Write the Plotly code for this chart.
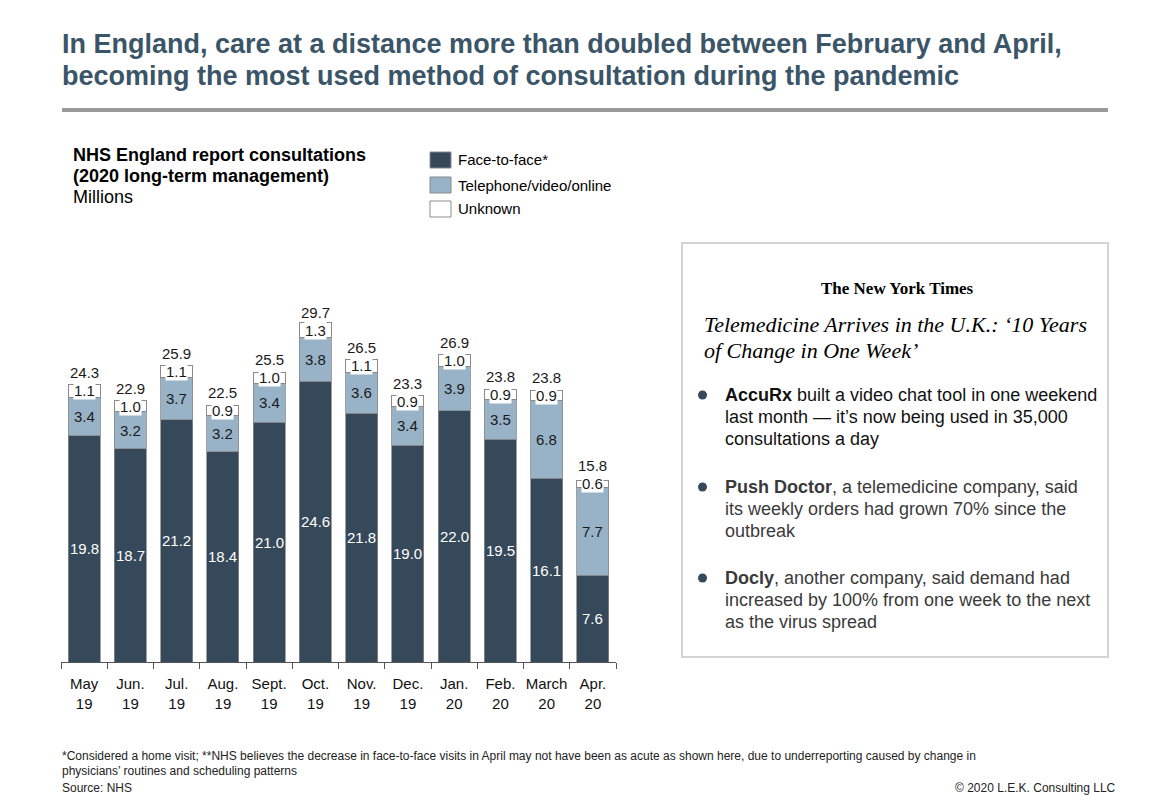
import plotly.graph_objects as go

months = ["May<br>19", "Jun.<br>19", "Jul.<br>19", "Aug.<br>19", "Sept.<br>19", "Oct.<br>19",
          "Nov.<br>19", "Dec.<br>19", "Jan.<br>20", "Feb.<br>20", "March<br>20", "Apr.<br>20"]
face_to_face = [19.8, 18.7, 21.2, 18.4, 21.0, 24.6, 21.8, 19.0, 22.0, 19.5, 16.1, 7.6]
telephone = [3.4, 3.2, 3.7, 3.2, 3.4, 3.8, 3.6, 3.4, 3.9, 3.5, 6.8, 7.7]
unknown = [1.1, 1.0, 1.1, 0.9, 1.0, 1.3, 1.1, 0.9, 1.0, 0.9, 0.9, 0.6]
totals = [24.3, 22.9, 25.9, 22.5, 25.5, 29.7, 26.5, 23.3, 26.9, 23.8, 23.8, 15.8]

DARK = "#36495a"
LIGHT = "#98b3c7"
EDGE = "#8a8a8a"
FONT = "Liberation Sans, Arial, sans-serif"
SERIF = "Liberation Serif, serif"

W, H = 1170, 810
PX0, PX1, PYT, PYB = 61, 616, 251, 662


def px(x):
    return (x - PX0) / (PX1 - PX0)


def py(y):
    return (PYB - y) / (PYB - PYT)


fig = go.Figure()
fig.add_bar(x=months, y=face_to_face, name="Face-to-face*", marker=dict(color=DARK, line=dict(color=EDGE, width=0.8)))
fig.add_bar(x=months, y=telephone, name="Telephone/video/online", marker=dict(color=LIGHT, line=dict(color=EDGE, width=0.8)))
fig.add_bar(x=months, y=unknown, name="Unknown", marker=dict(color="white", line=dict(color=EDGE, width=1)))

ann = []
for i, m in enumerate(months):
    f, t, u = face_to_face[i], telephone[i], unknown[i]
    ann.append(dict(x=m, y=f / 2, text=f"{f:.1f}", showarrow=False, font=dict(color="white", size=15, family=FONT)))
    ann.append(dict(x=m, y=f + t / 2, text=f"{t:.1f}", showarrow=False, font=dict(color="#1a1a1a", size=15, family=FONT)))
    ann.append(dict(x=m, y=f + t + u / 2, text=f"{u:.1f}", showarrow=False, bgcolor="white", borderpad=0,
                    font=dict(color="#1a1a1a", size=15, family=FONT)))
    ann.append(dict(x=m, y=f + t + u / 2, text=f"{totals[i]:.1f}", showarrow=False, yanchor="middle", yshift=18,
                    borderpad=0, font=dict(color="#1a1a1a", size=15, family=FONT)))


def pa(x, y, text, size=14, color="black", xanchor="left", yanchor="middle", family=FONT, align="left"):
    ann.append(dict(xref="paper", yref="paper", x=px(x), y=py(y), text=text, showarrow=False,
                    xanchor=xanchor, yanchor=yanchor, align=align, borderpad=0,
                    font=dict(size=size, color=color, family=family)))


# Title
pa(61, 44, "<b>In England, care at a distance more than doubled between February and April,</b>", size=27, color="#3b5568")
pa(61, 76, "<b>becoming the most used method of consultation during the pandemic</b>", size=27, color="#3b5568")
# Chart subtitle
pa(72, 155, "<b>NHS England report consultations</b>", size=18)
pa(72, 176, "<b>(2020 long-term management)</b>", size=18)
pa(72, 197, "Millions", size=18)

# Legend
legend_items = [("Face-to-face*", DARK, 160), ("Telephone/video/online", LIGHT, 185), ("Unknown", "white", 209)]
shapes = []
for name, col, yc in legend_items:
    shapes.append(dict(type="rect", xref="paper", yref="paper", x0=px(430), x1=px(451),
                       y0=py(yc - 8), y1=py(yc + 8), fillcolor=col, line=dict(color=EDGE, width=1)))
    pa(457, yc, name, size=15)

# Title rule
shapes.append(dict(type="line", xref="paper", yref="paper", x0=px(62), x1=px(1108), y0=py(110), y1=py(110),
                   line=dict(color="#9a9a9a", width=4)))

# NYT box
shapes.append(dict(type="rect", xref="paper", yref="paper", x0=px(682), x1=px(1108), y0=py(243), y1=py(657),
                   line=dict(color="#d4d4d4", width=2), fillcolor="white"))
pa(897, 288, "<b>The New York Times</b>", size=17, xanchor="center", family=SERIF)
pa(703, 324, "<i>Telemedicine Arrives in the U.K.: ‘10 Years</i>", size=22, family=SERIF)
pa(703, 350, "<i>of Change in One Week’</i>", size=22, family=SERIF)

bullets = [
    (395, ["<b>AccuRx</b> built a video chat tool in one weekend", "last month — it’s now being used in 35,000",
           "consultations a day"], "#111111"),
    (487, ["<b>Push Doctor</b>, a telemedicine company, said", "its weekly orders had grown 70% since the",
           "outbreak"], "#3a3a3a"),
    (578, ["<b>Docly</b>, another company, said demand had", "increased by 100% from one week to the next",
           "as the virus spread"], "#3a3a3a"),
]
for yb, lines, col in bullets:
    shapes.append(dict(type="circle", xref="paper", yref="paper", x0=px(698), x1=px(707),
                       y0=py(yb - 4.5), y1=py(yb + 4.5), fillcolor=DARK, line=dict(width=0)))
    for k, line in enumerate(lines):
        pa(724, yb + 22 * k, line, size=18, color=col)

# Footer
pa(61, 756, "*Considered a home visit; **NHS believes the decrease in face-to-face visits in April may not have been as acute as shown here, due to underreporting caused by change in",
   size=12, color="#222222")
pa(61, 771, "physicians’ routines and scheduling patterns", size=12, color="#222222")
pa(61, 788, "Source: NHS", size=12, color="#222222")
pa(1117, 788, "© 2020 L.E.K. Consulting LLC", size=12, color="#222222", xanchor="right")

fig.update_layout(
    barmode="stack",
    bargap=0.31,
    width=W, height=H,
    margin=dict(l=PX0, r=W - PX1, t=PYT, b=H - PYB),
    paper_bgcolor="white", plot_bgcolor="white",
    showlegend=False,
    font=dict(family=FONT, size=15, color="black"),
    annotations=ann,
    shapes=shapes,
    xaxis=dict(showline=True, linecolor="#555555", linewidth=1, ticks="outside", tickson="boundaries",
               ticklen=6, tickcolor="#555555", tickangle=0, ticklabelstandoff=8,
               tickfont=dict(size=15, color="#111111", family=FONT), showgrid=False),
    yaxis=dict(range=[0, 36], visible=False, showgrid=False),
)

fig.write_html("out.html", config={"displayModeBar": False},
               post_script="document.body.style.margin='0';")
